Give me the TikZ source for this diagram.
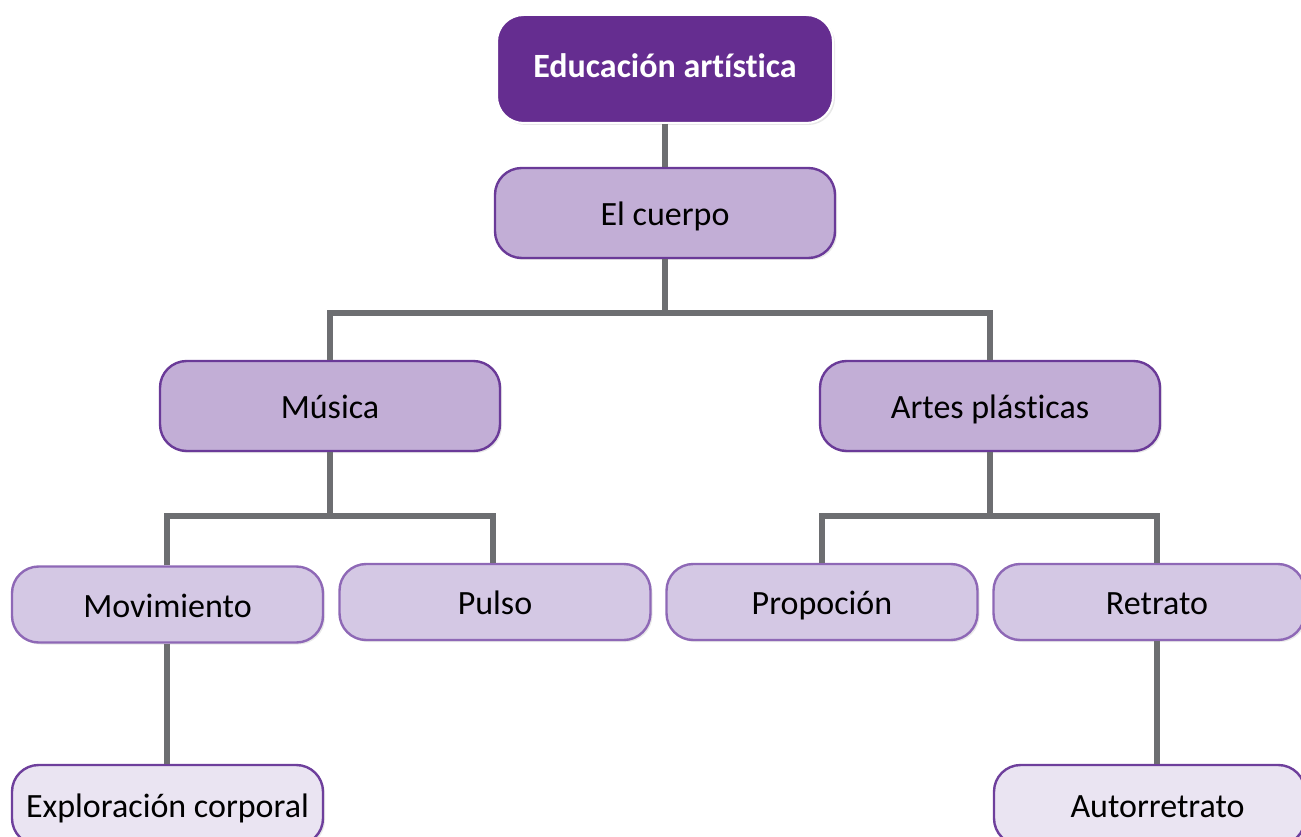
\documentclass[tikz,border=0pt]{standalone}
\usepackage{fontspec}
\setmainfont[Ligatures={NoCommon}]{Carlito}
\usetikzlibrary{shadows}
\definecolor{dpurple}{HTML}{652D90}
\definecolor{mfill}{HTML}{C2AED6}
\definecolor{mborder}{HTML}{6A3A98}
\definecolor{lfill}{HTML}{D4C8E4}
\definecolor{lborder}{HTML}{8E68B6}
\definecolor{vfill}{HTML}{EAE4F2}
\definecolor{vborder}{HTML}{6E3F9C}
\definecolor{conn}{HTML}{6D6E71}
\tikzset{
  base/.style={rounded corners=20pt, inner sep=0pt, font=\fontsize{25.5}{28}\selectfont,
    text height=24pt, text depth=5pt,
    drop shadow={shadow xshift=1.5pt, shadow yshift=-1.5pt, opacity=0.18}},
  topbox/.style={base, fill=dpurple, draw=white, line width=1.5pt, text=white,
    text height=19pt, text depth=6pt,
    minimum width=252pt, minimum height=81pt, font=\bfseries\fontsize{25.5}{28}\selectfont},
  midbox/.style={base, fill=mfill, draw=mborder, line width=1.8pt,
    minimum width=255pt, minimum height=67.5pt},
  lowbox/.style={base, fill=lfill, draw=lborder, line width=1.8pt,
    minimum width=233.25pt, minimum height=57pt},
  leafbox/.style={base, fill=vfill, draw=vborder, line width=1.8pt,
    minimum width=233.25pt, minimum height=60pt},
  link/.style={draw=conn, line width=3.8pt}
}
\begin{document}
\begin{tikzpicture}[x=0.75pt,y=-0.75pt]
\useasboundingbox (0,0) rectangle (1301,837);
% junction points
\coordinate (j1) at (665,313);
\coordinate (j1l) at (330,313);
\coordinate (j1r) at (990,313);
\coordinate (j2) at (330,516);
\coordinate (j2l) at (167,516);
\coordinate (j2r) at (493,516);
\coordinate (j3) at (990,516);
\coordinate (j3l) at (822,516);
\coordinate (j3r) at (1157,516);
% nodes
\node[topbox] (top) at (665,69) {Educación artística};
\node[midbox] (cuerpo) at (665,213) {El cuerpo};
\node[midbox] (musica) at (330,406) {Música};
\node[midbox] (artes) at (990,406) {Artes plásticas};
\node[lowbox] (mov) at (167.5,604.5) {Movimiento};
\node[lowbox] (pulso) at (495,602) {Pulso};
\node[lowbox] (prop) at (822,602) {Propoción};
\node[lowbox] (retrato) at (1149,602) {\hspace*{12pt}Retrato};
\node[leafbox] (explo) at (167.5,805) {Exploración corporal};
\node[leafbox] (auto) at (1149.5,805) {\hspace*{12pt}Autorretrato};
% connectors
\draw[link] (top.south) -- (cuerpo.north);
\draw[link] (cuerpo.south) -- (j1);
\draw[link] (musica.north) -- (j1l) -- (j1r) -- (artes.north);
\draw[link] (musica.south) -- (j2);
\draw[link] (mov.north -| j2l) -- (j2l) -- (j2r) -- (pulso.north -| j2r);
\draw[link] (artes.south) -- (j3);
\draw[link] (prop.north) -- (j3l) -- (j3r) -- (retrato.north -| j3r);
\draw[link] (mov.south -| j2l) -- (explo.north -| j2l);
\draw[link] (retrato.south -| j3r) -- (auto.north -| j3r);
\end{tikzpicture}
\end{document}
